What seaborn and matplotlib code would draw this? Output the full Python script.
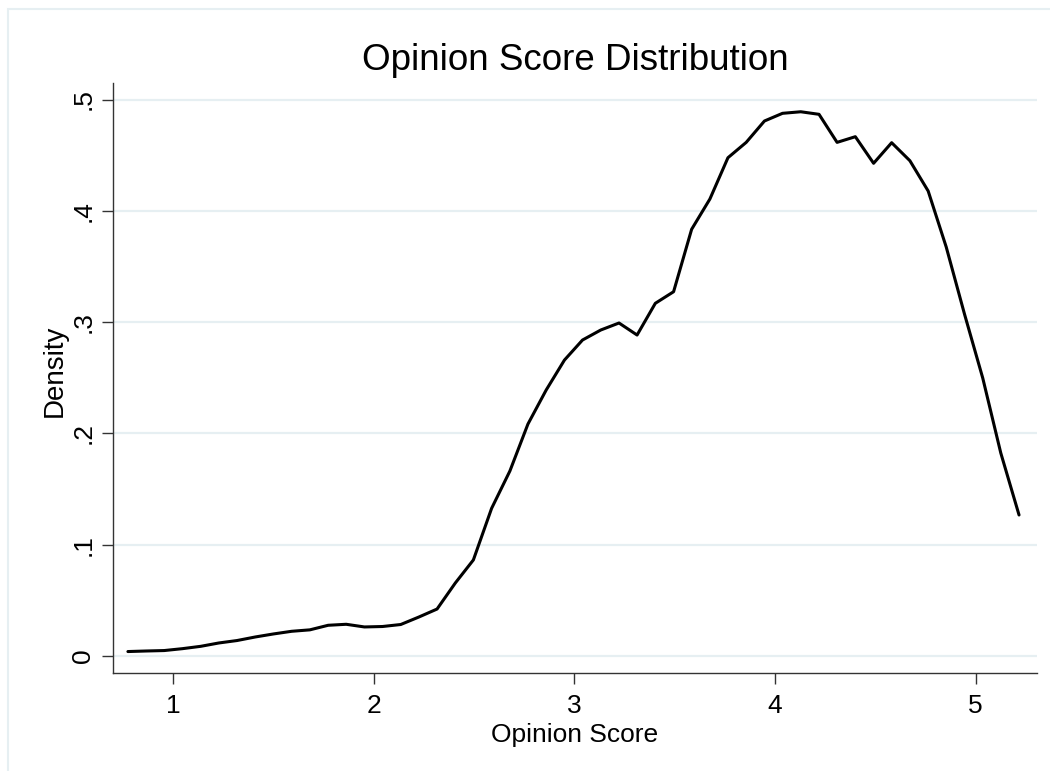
import matplotlib
matplotlib.use("Agg")
import matplotlib.pyplot as plt
import seaborn as sns
import pandas as pd
from matplotlib.patches import Rectangle

# Kernel density estimate of opinion scores, evaluated on a 50-point grid
score = [0.774, 0.865, 0.955, 1.046, 1.137, 1.227, 1.318, 1.409, 1.499, 1.590,
         1.681, 1.772, 1.862, 1.953, 2.043, 2.134, 2.224, 2.315, 2.406, 2.496,
         2.587, 2.678, 2.768, 2.859, 2.950, 3.040, 3.131, 3.222, 3.312, 3.403,
         3.494, 3.584, 3.675, 3.765, 3.856, 3.947, 4.037, 4.128, 4.219, 4.309,
         4.400, 4.491, 4.581, 4.672, 4.763, 4.853, 4.944, 5.035, 5.125, 5.216]
density = [0.0040, 0.0045, 0.0049, 0.0066, 0.0087, 0.0117, 0.0139, 0.0171, 0.0198, 0.0222,
           0.0235, 0.0276, 0.0285, 0.0261, 0.0265, 0.0283, 0.0350, 0.0422, 0.0656, 0.0863,
           0.1327, 0.1662, 0.2084, 0.2390, 0.2659, 0.2839, 0.2929, 0.2992, 0.2884, 0.3169,
           0.3273, 0.3834, 0.4106, 0.4477, 0.4615, 0.4807, 0.4876, 0.4890, 0.4867, 0.4615,
           0.4666, 0.4427, 0.4612, 0.4450, 0.4178, 0.3675, 0.3073, 0.2498, 0.1824, 0.1267]

x_ticks = [1, 2, 3, 4, 5]
x_tick_labels = ["1", "2", "3", "4", "5"]
y_ticks = [0, 0.1, 0.2, 0.3, 0.4, 0.5]
y_tick_labels = ["0", ".1", ".2", ".3", ".4", ".5"]

df = pd.DataFrame({"Opinion Score": score, "Density": density})

sns.set_style("white")
plt.rcParams["font.family"] = ["Liberation Sans", "DejaVu Sans"]
plt.rcParams["text.color"] = "black"
plt.rcParams["axes.labelcolor"] = "black"
plt.rcParams["xtick.color"] = "black"
plt.rcParams["ytick.color"] = "black"

GRID = "#e6eff2"
AXIS = "#333333"

fig = plt.figure(figsize=(10.5, 7.71), dpi=100)
fig.patch.set_facecolor("white")

# light outer frame around the graph region
fig.add_artist(Rectangle((8 / 1050, -0.05), 1.1, 1.05 - 9 / 771,
                         transform=fig.transFigure, fill=False,
                         edgecolor=GRID, linewidth=1.5))

ax = fig.add_axes([0.1073, 0.1275, 0.8806, 0.7645])
ax.set_facecolor("white")

sns.lineplot(data=df, x="Opinion Score", y="Density", ax=ax,
             color="black", linewidth=2.2, zorder=3)

ax.set_xlim(0.698, 5.307)
ax.set_ylim(-0.015, 0.5146)

ax.set_xticks(x_ticks)
ax.set_xticklabels(x_tick_labels, fontsize=19)
ax.set_yticks(y_ticks)
ax.set_yticklabels(y_tick_labels, fontsize=19, rotation=90, va="center")

ax.tick_params(axis="x", bottom=True, direction="out", length=8, width=1,
               color=AXIS, labelcolor="black", pad=7.5)
ax.tick_params(axis="y", left=True, direction="out", length=8, width=1,
               color=AXIS, labelcolor="black", pad=4.6)

ax.grid(False)
for yv in y_ticks:
    ax.axhline(yv, color=GRID, linewidth=1.6, zorder=1)

for side in ("top", "right"):
    ax.spines[side].set_visible(False)
for side in ("left", "bottom"):
    ax.spines[side].set_color(AXIS)
    ax.spines[side].set_linewidth(1)

ax.set_xlabel("Opinion Score", fontsize=19, color="black")
ax.set_ylabel("Density", fontsize=20, color="black")
ax.xaxis.set_label_coords(0.5, -0.0848)
ax.yaxis.set_label_coords(-0.0488, 0.512)

ax.set_title("Opinion Score Distribution", fontsize=26.5, color="black",
             y=1.0226, pad=0)

fig.savefig("out.png", dpi=100, facecolor="white")
